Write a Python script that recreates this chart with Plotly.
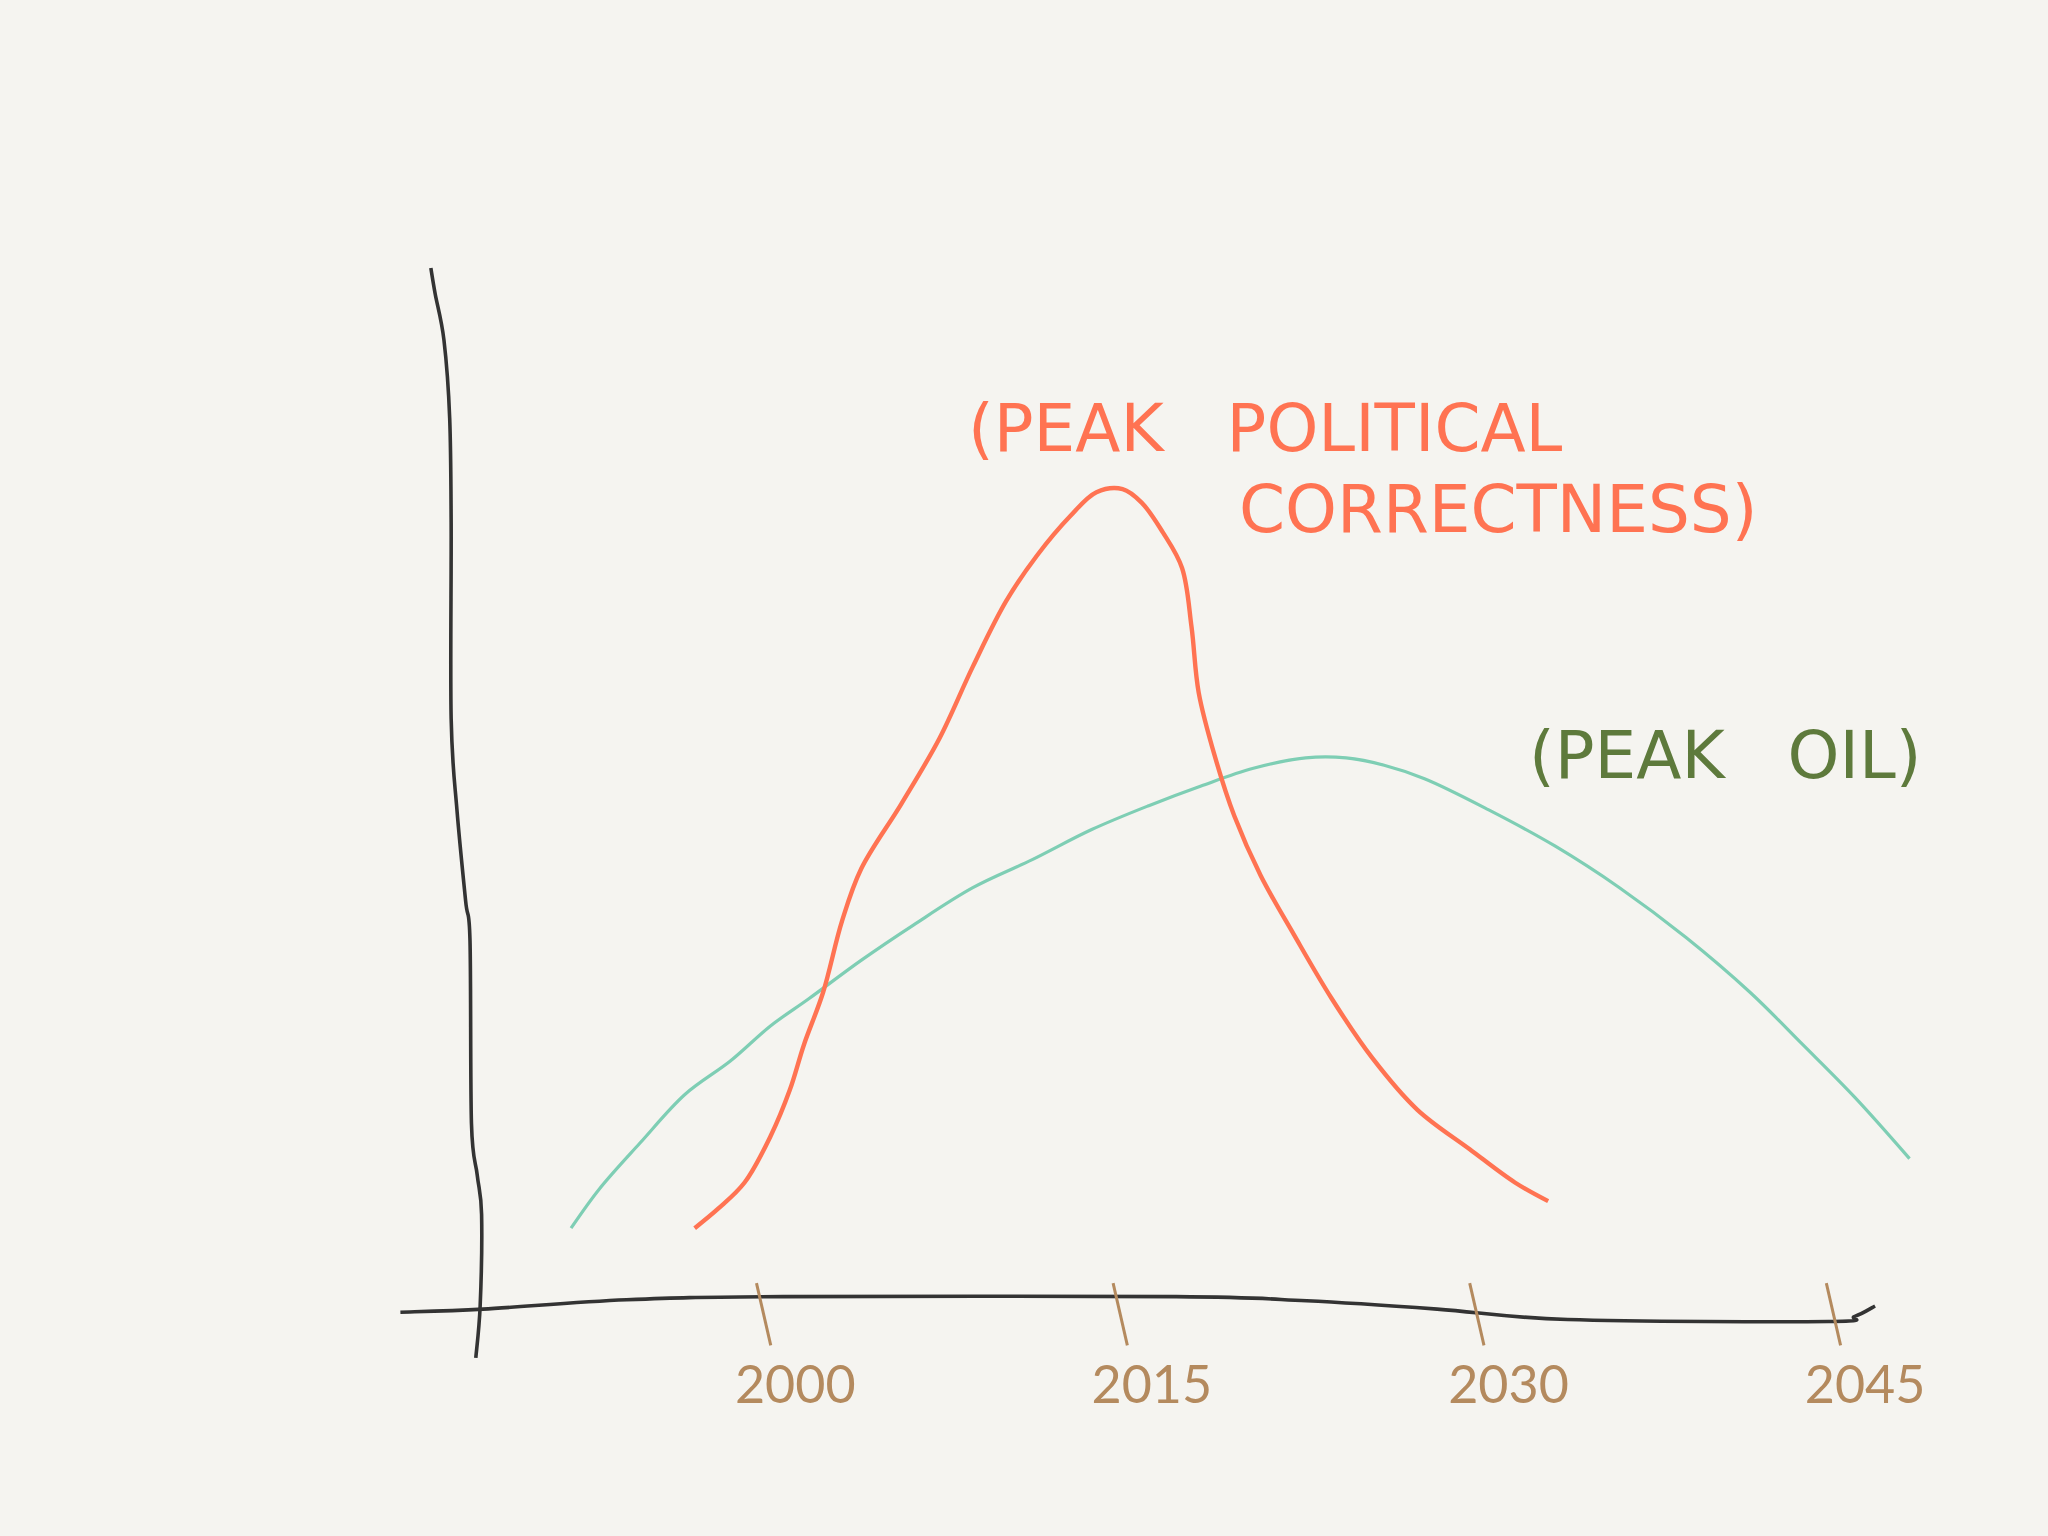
import plotly.graph_objects as go

# peak political correctness (red curve)
pc_years = [1997.2, 1998.2, 1999.3, 2000.4, 2001.2, 2001.8, 2002.6, 2003.4, 2004.2, 2005.9,
            2007.5, 2008.9, 2010.3, 2011.6, 2013.0, 2014.1, 2015.2, 2016.0, 2016.9, 2017.7,
            2018.1, 2018.4, 2019.1, 2019.9, 2021.0, 2022.4, 2024.0, 2025.7, 2027.6, 2029.8,
            2031.7, 2033.1]
pc_values = [7.5, 9.4, 11.9, 16.4, 20.8, 25.2, 30.2, 37.1, 42.1, 48.4,
             54.7, 61.6, 67.9, 72.3, 76.1, 78.4, 78.7, 77.4, 74.5, 71.1,
             65.4, 59.1, 52.8, 47.2, 41.5, 35.8, 29.6, 23.9, 18.9, 15.1,
             11.9, 10.1]

# peak oil (teal curve)
oil_years = [1992.0, 1993.2, 1994.9, 1996.8, 1998.7, 2000.4, 2002.0, 2004.2, 2006.4, 2008.9,
             2011.4, 2013.9, 2016.3, 2018.5, 2020.7, 2022.9, 2024.6, 2026.2, 2027.9, 2030.6,
             2033.4, 2036.1, 2038.9, 2041.6, 2043.8, 2046.0, 2048.3]
oil_values = [7.5, 11.3, 15.7, 20.4, 23.6, 27.0, 29.6, 33.3, 36.7, 40.3,
              43.0, 45.9, 48.2, 50.1, 51.8, 52.8, 52.8, 52.1, 50.8, 47.8,
              44.3, 40.3, 35.5, 30.2, 25.2, 20.1, 14.2]

tick_years = [2000, 2015, 2030, 2045]
tick_labels = ["2000", "2015", "2030", "2045"]

RED = "#FF7352"
TEAL = "#7ECEB4"
GREEN = "#5E7A3C"
BROWN = "#B48A5E"
INK = "#333333"
BG = "#F5F4F0"
FONT = "Lato"
HAND = "DejaVu Sans"


def smooth_path(pts):
    # catmull-rom -> cubic bezier, so the hand drawn axes don't look jagged
    d = "M %.4f,%.4f" % pts[0]
    for i in range(len(pts) - 1):
        p0 = pts[i - 1] if i > 0 else pts[i]
        p1, p2 = pts[i], pts[i + 1]
        p3 = pts[i + 2] if i + 2 < len(pts) else p2
        c1 = (p1[0] + (p2[0] - p0[0]) / 6, p1[1] + (p2[1] - p0[1]) / 6)
        c2 = (p2[0] - (p3[0] - p1[0]) / 6, p2[1] - (p3[1] - p1[1]) / 6)
        d += " C %.4f,%.4f %.4f,%.4f %.4f,%.4f" % (c1 + c2 + p2)
    return d


# wobbly axes, in paper coords
y_axis_pts = [(-0.027, 1.0), (-0.024, 0.975), (-0.018, 0.931), (-0.014, 0.855), (-0.013, 0.755),
              (-0.013, 0.566), (-0.009, 0.478), (-0.003, 0.39), (0.0, 0.352), (0.001, 0.176),
              (0.005, 0.126), (0.008, 0.088), (0.007, 0.0), (0.004, -0.05)]
x_axis_pts = [(-0.048, -0.006), (0.009, -0.003), (0.108, 0.006), (0.216, 0.009), (0.487, 0.009),
              (0.577, 0.005), (0.667, -0.003), (0.757, -0.013), (0.937, -0.015), (0.955, -0.010),
              (0.969, 0.0)]

fig = go.Figure()
fig.add_trace(go.Scatter(x=oil_years, y=oil_values, mode="lines",
                         line=dict(color=TEAL, width=3.2, shape="spline"),
                         cliponaxis=False, name="Peak oil"))
fig.add_trace(go.Scatter(x=pc_years, y=pc_values, mode="lines",
                         line=dict(color=RED, width=4.4, shape="spline"),
                         cliponaxis=False, name="Peak political correctness"))

fig.add_shape(type="path", path=smooth_path(y_axis_pts), xref="paper", yref="paper",
              line=dict(color=INK, width=3.6))
fig.add_shape(type="path", path=smooth_path(x_axis_pts), xref="paper", yref="paper",
              line=dict(color=INK, width=3.6))

for yr in tick_years:
    fig.add_shape(type="line", xref="x", yref="paper",
                  x0=yr - 0.2, x1=yr + 0.4, y0=0.022, y1=-0.038,
                  line=dict(color=BROWN, width=3))

fig.add_annotation(x=2008.6, y=84.5, text="(PEAK&nbsp;&nbsp; POLITICAL", showarrow=False,
                   xanchor="left", yanchor="middle",
                   font=dict(family=HAND, size=66, color=RED))
fig.add_annotation(x=2020.0, y=76.7, text="CORRECTNESS)", showarrow=False,
                   xanchor="left", yanchor="middle",
                   font=dict(family=HAND, size=66, color=RED))
fig.add_annotation(x=2032.2, y=53.0, text="(PEAK&nbsp;&nbsp; OIL)", showarrow=False,
                   xanchor="left", yanchor="middle",
                   font=dict(family=HAND, size=66, color=GREEN))

fig.update_layout(
    width=2048, height=1536,
    paper_bgcolor=BG, plot_bgcolor=BG,
    margin=dict(l=470, r=128, t=268, b=230),
    showlegend=False,
    xaxis=dict(range=[1987.75, 2048.74], tickvals=tick_years, ticktext=tick_labels,
               showgrid=False, zeroline=False, showline=False, ticks="",
               tickfont=dict(family=FONT, size=52, color=BROWN),
               ticklabelstandoff=44, ticklabelshift=34),
    yaxis=dict(range=[0, 100], showgrid=False, zeroline=False, showline=False,
               showticklabels=False, ticks=""),
)

fig.write_html("out.html", config={"displayModeBar": False},
               post_script="document.body.style.margin='0';document.body.style.background='%s';" % BG)
